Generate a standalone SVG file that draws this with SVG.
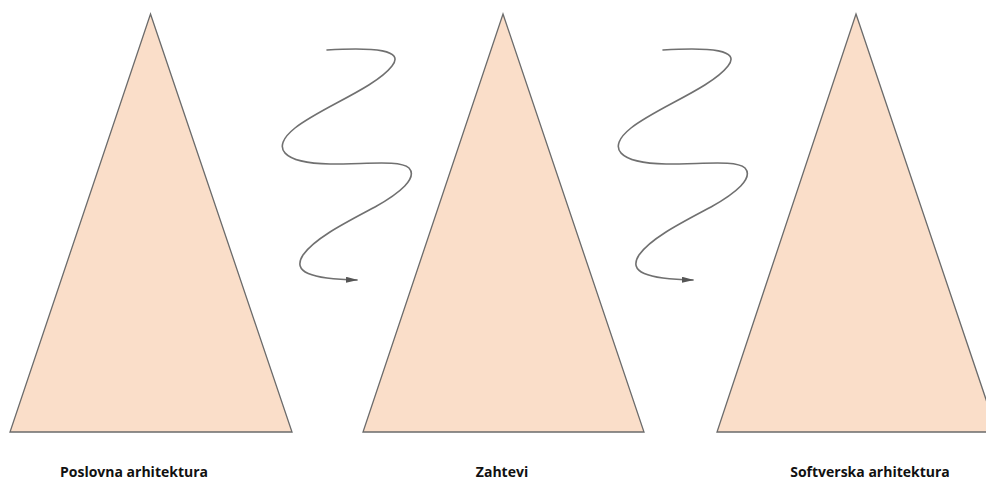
<svg xmlns="http://www.w3.org/2000/svg" width="986" height="480" viewBox="0 0 986 480">
<style>
.tri{fill:#FADEC9;stroke:#6b6b6b;stroke-width:1.3;stroke-linejoin:miter}
.lbl{font-family:"Open Sans","Liberation Sans",sans-serif;font-weight:bold;font-size:14px;fill:#111;text-anchor:middle}
.sq{fill:none;stroke:#707070;stroke-width:1.6;stroke-linecap:round}
</style>
<defs>
<marker id="ah" viewBox="0 0 12 6" refX="11" refY="3" markerWidth="12" markerHeight="6" markerUnits="userSpaceOnUse" orient="auto">
<path d="M0,0 L12,3 L0,6 Z" fill="#555"/>
</marker>
<path id="squig" d="M 327 50 C 375 47, 405 50, 392 66 C 375 88, 320 108, 295 128 C 270 148, 282 163, 330 164 C 370 164, 400 160, 409 168 C 418 178, 400 193, 375 207 C 345 223, 315 238, 303 255 C 292 272, 310 279, 357 280"/>
</defs>
<rect width="986" height="480" fill="#fff"/>
<g id="node-poslovna">
<polygon class="tri" points="150.5,14 292,432 10,432"/>
<text class="lbl" x="134" y="477">Poslovna arhitektura</text>
</g>
<g id="node-zahtevi">
<polygon class="tri" points="503,14 644,432 363,432"/>
<text class="lbl" x="502" y="477">Zahtevi</text>
</g>
<g id="node-softverska">
<polygon class="tri" points="856,14 997,432 717,432"/>
<text class="lbl" x="870" y="477">Softverska arhitektura</text>
</g>
<g id="connectors">
<use href="#squig" class="sq" marker-end="url(#ah)"/>
<use href="#squig" class="sq" transform="translate(336,0)" marker-end="url(#ah)"/>
</g>
</svg>
